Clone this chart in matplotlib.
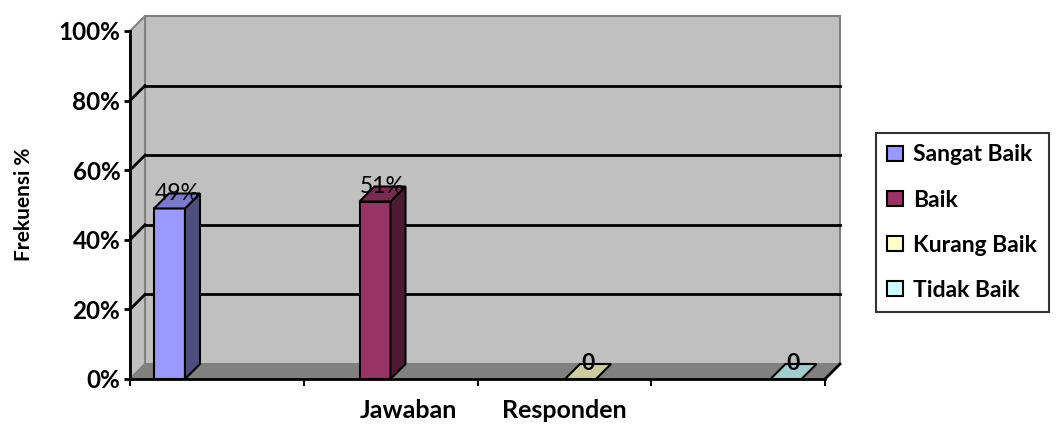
import matplotlib
matplotlib.use("Agg")
import matplotlib.pyplot as plt
from matplotlib.patches import Polygon, Patch

# ---- data ----
series = ["Sangat Baik", "Baik", "Kurang Baik", "Tidak Baik"]
values = [49, 51, 0, 0]
value_labels = ["49%", "51%", "0", "0"]
y_ticks = [0, 20, 40, 60, 80, 100]
y_tick_labels = ["0%", "20%", "40%", "60%", "80%", "100%"]
x_title_words = ["Jawaban", "Responden"]
y_title = "Frekuensi %"

# ---- styles ----
front_colors = ["#9999FF", "#993366", "#FFFFCC", "#CCFFFF"]
top_colors = ["#7A7ACC", "#7A2952", "#CCCCA3", "#A3CCCC"]
side_colors = ["#4D4D80", "#4D1A33", "#80806A", "#6A8080"]
FONT = "Lato"

W, H = 1056, 424
fig = plt.figure(figsize=(W / 100, H / 100), dpi=100)
ax = fig.add_axes([130 / W, (H - 379) / H, 695 / W, 348 / H])
ax.set_xlim(0, 4)
ax.set_ylim(0, 100)
ax.set_facecolor("none")

DX = 15 / 173.75
DY = 15 / 3.48
XMAX = 4

# walls
back = Polygon([(DX, DY), (XMAX + DX, DY), (XMAX + DX, 100 + DY), (DX, 100 + DY)],
               closed=True, facecolor="#C0C0C0", edgecolor="#808080", lw=1.5,
               clip_on=False, zorder=0)
side = Polygon([(0, 0), (DX, DY), (DX, 100 + DY), (0, 100)], closed=True,
               facecolor="#C0C0C0", edgecolor="#808080", lw=1.5, clip_on=False, zorder=0)
floor = Polygon([(0, 0), (XMAX, 0), (XMAX + DX, DY), (DX, DY)], closed=True,
                facecolor="#808080", edgecolor="#808080", lw=1, clip_on=False, zorder=0.5)
for p in (back, side, floor):
    ax.add_patch(p)

for v in y_ticks[1:-1]:
    ax.plot([DX, XMAX + DX], [v + DY, v + DY], color="black", lw=2, clip_on=False, zorder=1)
    ax.plot([0, DX], [v, v + DY], color="black", lw=2, clip_on=False, zorder=1)
ax.plot([XMAX, XMAX + DX], [0, DY], color="black", lw=2, clip_on=False, zorder=3)

# bars (3D boxes)
bw = 31 / 173.75
step = 205.5 / 173.75
first_left = 24 / 173.75
for i, (v, lab) in enumerate(zip(values, value_labels)):
    x0 = first_left + i * step
    x1 = x0 + bw
    kw = dict(closed=True, edgecolor="black", lw=1.5, clip_on=False, zorder=2, joinstyle="miter")
    if v > 0:
        ax.add_patch(Polygon([(x0, 0), (x1, 0), (x1, v), (x0, v)], facecolor=front_colors[i], **kw))
        ax.add_patch(Polygon([(x1, 0), (x1 + DX, DY), (x1 + DX, v + DY), (x1, v)],
                             facecolor=side_colors[i], **kw))
    ax.add_patch(Polygon([(x0, v), (x1, v), (x1 + DX, v + DY), (x0 + DX, v + DY)],
                         facecolor=top_colors[i], **kw))
    ax.text((x0 + x1) / 2 + DX / 2, v + DY, lab, ha="center", va="center",
            fontsize=16.5, family=FONT, fontweight="bold" if v == 0 else "normal",
            color="black", zorder=5, clip_on=False)

# axes
for s in ("top", "right"):
    ax.spines[s].set_visible(False)
for s in ("left", "bottom"):
    ax.spines[s].set_linewidth(2)
    ax.spines[s].set_zorder(3)
ax.set_yticks(y_ticks)
ax.set_yticklabels(y_tick_labels, family=FONT, fontweight="bold", fontsize=17.5)
ax.set_xticks(range(XMAX + 1))
ax.set_xticklabels([])
ax.tick_params(axis="y", length=4, width=2, pad=3)
ax.tick_params(axis="x", length=5, width=1.5)

fig.text(24 / W, 1 - 204 / H, y_title, rotation=90, ha="center", va="center",
         family=FONT, fontweight="bold", fontsize=15)
fig.text(408 / W, 1 - 410 / H, x_title_words[0], ha="center", va="center",
         family=FONT, fontweight="bold", fontsize=18)
fig.text(564 / W, 1 - 410 / H, x_title_words[1], ha="center", va="center",
         family=FONT, fontweight="bold", fontsize=18)

handles = [Patch(facecolor=c, edgecolor="black", lw=1.5) for c in front_colors]
leg = fig.legend(handles, series, loc="upper left",
                 bbox_to_anchor=(876 / W, 1 - 133 / H), frameon=True, fancybox=False,
                 prop=dict(family=FONT, weight="bold", size=16.5),
                 handlelength=0.68, handleheight=0.68, handletextpad=0.45,
                 labelspacing=1.05, borderpad=0.5, borderaxespad=0)
leg.get_frame().set_edgecolor("black")
leg.get_frame().set_linewidth(1.5)

fig.savefig("out.png", dpi=100)
